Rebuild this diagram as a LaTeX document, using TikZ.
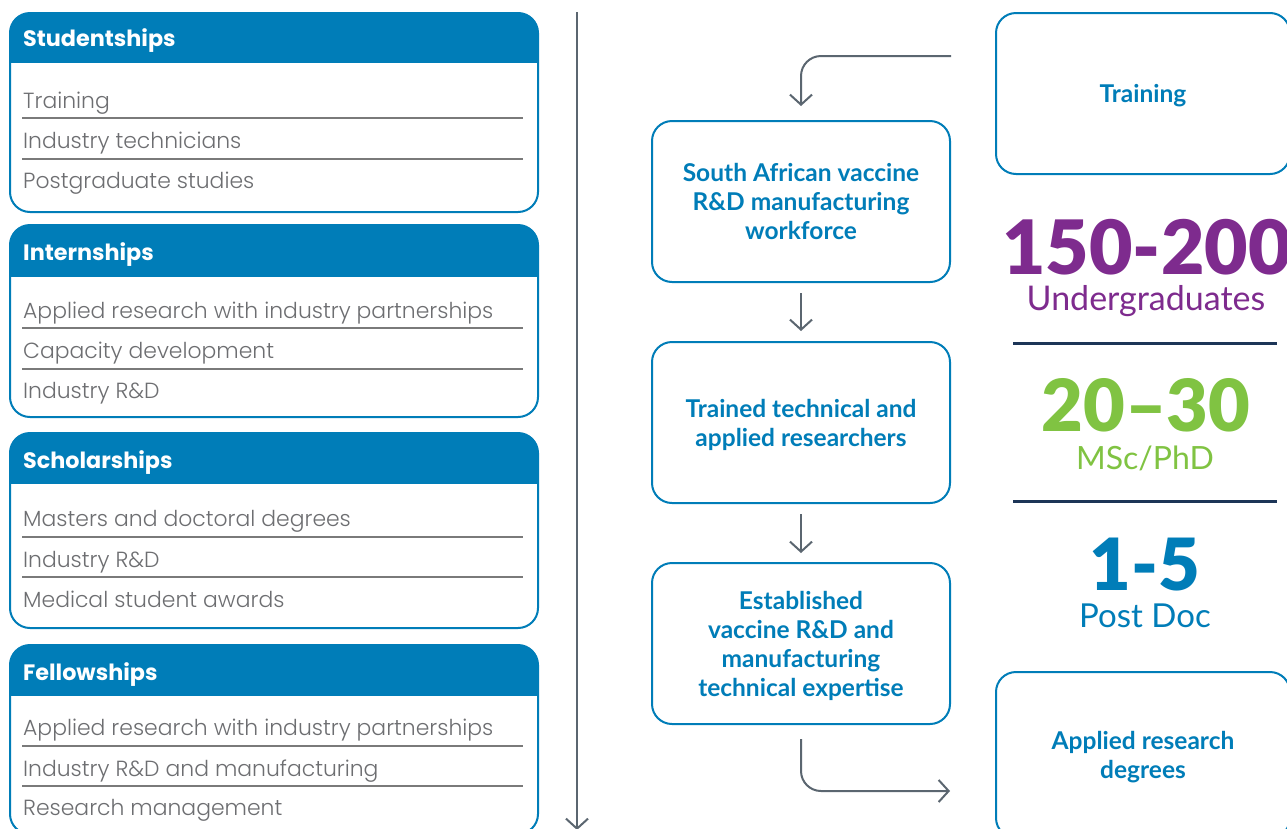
\documentclass[tikz,border=0pt]{standalone}
\usepackage{fontspec}
\setmainfont{Lato}
\IfFontExistsTF{Lato Black}{\newfontfamily\numfont{Lato Black}}{\newcommand\numfont{\bfseries}}
\newfontfamily\listfont{Poppins}
\IfFontExistsTF{Poppins Light}{\newfontfamily\itemfont{Poppins Light}}{\newcommand\itemfont{\listfont}}
\usetikzlibrary{arrows.meta}
\usetikzlibrary{positioning}

\definecolor{hdrblue}{HTML}{007DB8}
\definecolor{itemgray}{HTML}{6D6E71}
\definecolor{rulegray}{HTML}{7A7A7A}
\definecolor{arrowgray}{HTML}{5B6670}
\definecolor{statpurple}{HTML}{7E2B8E}
\definecolor{statgreen}{HTML}{80C342}
\definecolor{navy}{HTML}{1C3557}

\tikzset{
  boxline/.style={draw=hdrblue, line width=2pt, rounded corners=20pt},
  hdr/.style={anchor=base west, text=white, inner sep=0pt, font=\listfont\fontsize{22.3}{24}\selectfont\bfseries},
  item/.style={anchor=base west, text=itemgray, inner sep=0pt, font=\itemfont\fontsize{21.9}{25}\selectfont},
  sep/.style={draw=rulegray, line width=1.5pt},
  flowbox/.style={draw=hdrblue, line width=2pt, rounded corners=20pt, minimum width=298pt, minimum height=161pt, align=center, text=hdrblue, text depth=-6pt, font=\fontsize{24.5}{29}\selectfont\bfseries},
  flow/.style={draw=arrowgray, line width=2pt, -{Straight Barb[length=10pt,width=22pt]}},
  bignum/.style={anchor=base, inner sep=0pt, font=\numfont\fontsize{72}{80}\selectfont},
  numlabel/.style={anchor=base, inner sep=0pt, font=\fontsize{32}{36}\selectfont},
  divider/.style={draw=navy, line width=3pt}
}

\begin{document}
\begin{tikzpicture}[x=1pt,y=-1pt]
\useasboundingbox (0,0) rectangle (1287,828);
\fill[white] (0,0) rectangle (1287,828);

% Studentships
\begin{scope}
\clip[rounded corners=20pt] (10,13) rectangle (538,212);
\fill[hdrblue] (10,13) rectangle (538,63);
\end{scope}
\draw[boxline] (10,13) rectangle (538,212);
\node[hdr] (stud) at (23,46) {Studentships};
\node[item] (stud1) at (23,108) {Training};
\draw[sep] (22,118) -- (523,118);
\node[item] (stud2) at (23,148) {Industry technicians};
\draw[sep] (22,159) -- (523,159);
\node[item] (stud3) at (23,188) {Postgraduate studies};

% Internships
\begin{scope}
\clip[rounded corners=20pt] (10,225) rectangle (538,417);
\fill[hdrblue] (10,225) rectangle (538,277);
\end{scope}
\draw[boxline] (10,225) rectangle (538,417);
\node[hdr] (intern) at (23,260) {Internships};
\node[item] (intern1) at (23,318) {Applied research with industry partnerships};
\draw[sep] (22,328) -- (523,328);
\node[item] (intern2) at (23,358) {Capacity development};
\draw[sep] (22,369) -- (523,369);
\node[item] (intern3) at (23,398) {Industry R\&D};

% Scholarships
\begin{scope}
\clip[rounded corners=20pt] (10,433) rectangle (538,628);
\fill[hdrblue] (10,433) rectangle (538,484);
\end{scope}
\draw[boxline] (10,433) rectangle (538,628);
\node[hdr] (schol) at (23,468) {Scholarships};
\node[item] (schol1) at (23,526) {Masters and doctoral degrees};
\draw[sep] (22,537) -- (523,537);
\node[item] (schol2) at (23,567) {Industry R\&D};
\draw[sep] (22,577) -- (523,577);
\node[item] (schol3) at (23,607) {Medical student awards};

% Fellowships
\begin{scope}
\clip[rounded corners=20pt] (10,645) rectangle (538,834);
\fill[hdrblue] (10,645) rectangle (538,696);
\end{scope}
\draw[boxline] (10,645) rectangle (538,834);
\node[hdr] (fellow) at (23,680) {Fellowships};
\node[item] (fellow1) at (23,735) {Applied research with industry partnerships};
\draw[sep] (22,746) -- (523,746);
\node[item] (fellow2) at (23,776) {Industry R\&D and manufacturing};
\draw[sep] (22,786) -- (523,786);
\node[item] (fellow3) at (23,815) {Research management};

% timeline
\coordinate (axtop) at (577,12);
\coordinate (axbot) at (577,830);
\draw[flow] (axtop) -- (axbot);

% pipeline
\node[flowbox] (workforce) at (801,201.5) {South African vaccine\\R\&D manufacturing\\workforce};
\node[flowbox] (trained) at (801,422.5) {Trained technical and\\applied researchers};
\node[flowbox] (expertise) at (801,643.5) {Established\\vaccine R\&D and\\manufacturing\\technical expertise};

\node[flowbox, minimum width=294pt] (training) at (1143,93.5) {Training};
\node[flowbox, minimum width=294pt, minimum height=166pt] (degrees) at (1143,755) {Applied research\\degrees};

\coordinate (loopin) at (951,56);
\coordinate (loopout) at (950,791);
\draw[flow, rounded corners=20pt] (loopin) -| ([yshift=14pt]workforce.north);
\draw[flow] ([yshift=-10pt]workforce.south) -- ([yshift=10pt]trained.north);
\draw[flow] ([yshift=-10pt]trained.south) -- ([yshift=9pt]expertise.north);
\draw[flow, rounded corners=20pt] ([yshift=-14pt]expertise.south) |- (loopout);

% numbers
\node[bignum, text=statpurple, font=\numfont\fontsize{75}{80}\selectfont] (ugnum) at (1147,274) {150-200};
\node[numlabel, text=statpurple, font=\fontsize{34}{36}\selectfont] (ug) at (1146,310) {Undergraduates};
\draw[divider] (1013,343) -- (1277,343);
\node[bignum, text=statgreen] (pgnum) at (1146,431) {20–30};
\node[numlabel, text=statgreen] (pg) at (1145,469) {MSc/PhD};
\draw[divider] (1013,501) -- (1277,501);
\node[bignum, text=hdrblue] (pdnum) at (1145,590) {1-5};
\node[numlabel, text=hdrblue, font=\fontsize{33}{36}\selectfont] (pd) at (1145,627) {Post Doc};
\end{tikzpicture}
\end{document}
